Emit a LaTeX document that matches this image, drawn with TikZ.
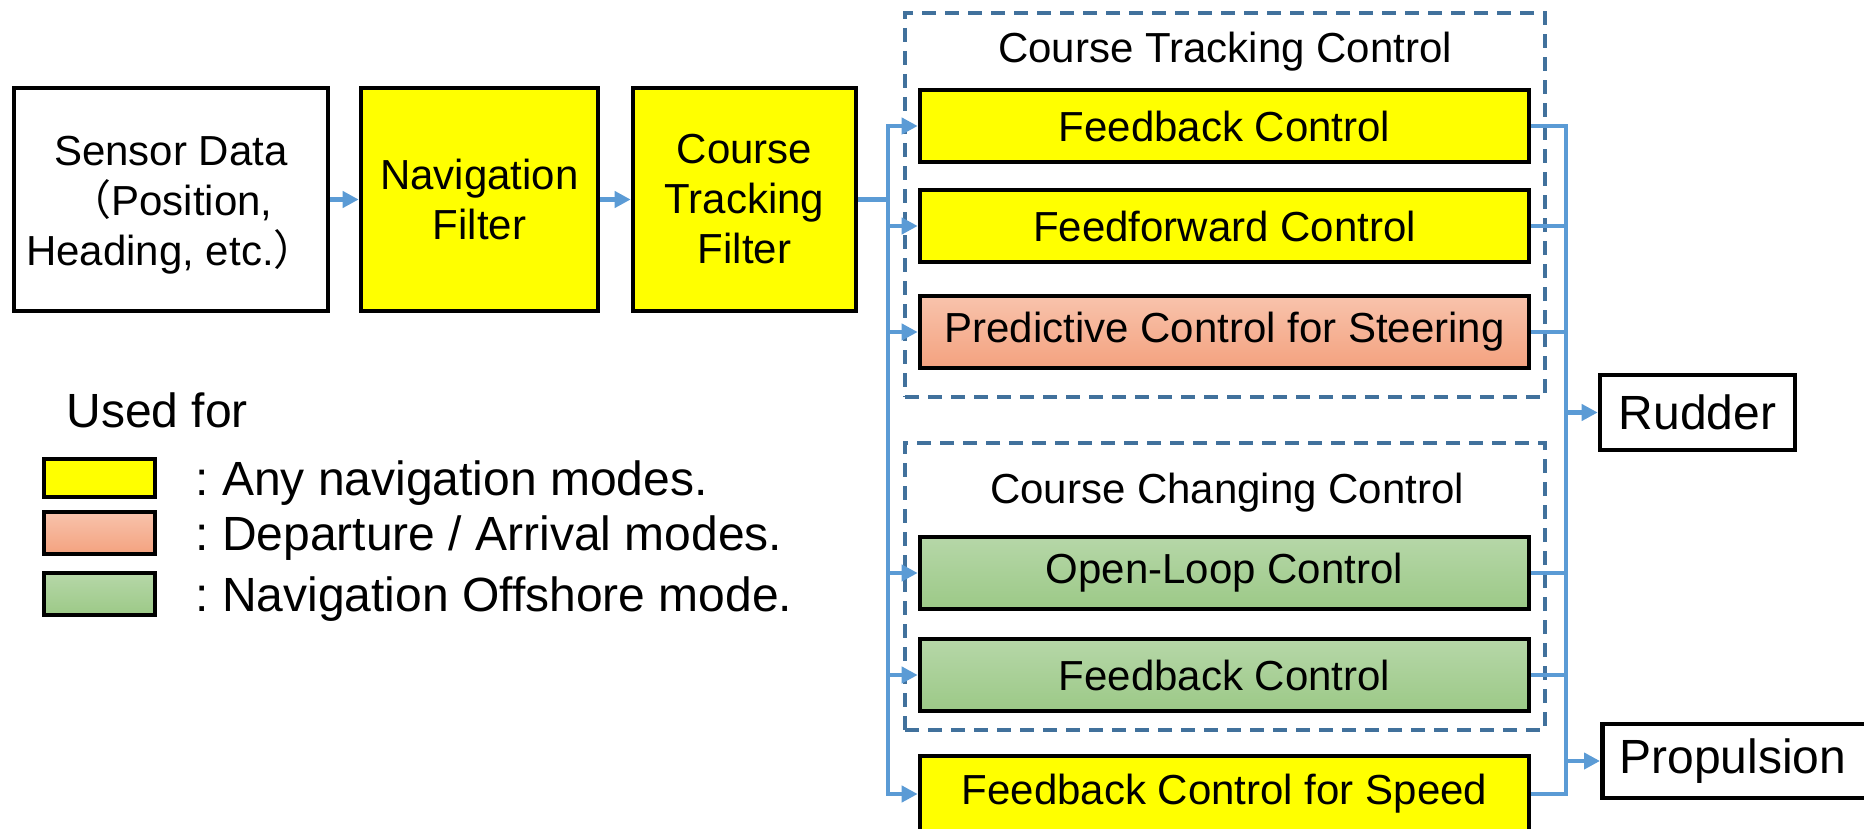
\documentclass[tikz,border=0pt]{standalone}
\usepackage{fontspec}
\setmainfont{Liberation Sans}
\newfontfamily\cjkfont{Noto Sans CJK JP}
\usetikzlibrary{arrows.meta}

\definecolor{linkblue}{HTML}{5B9BD5}
\definecolor{groupblue}{HTML}{41719C}
\definecolor{anyyellow}{HTML}{FFFF00}
\definecolor{salmontop}{HTML}{F8C3AC}
\definecolor{salmonbot}{HTML}{F4A27F}
\definecolor{greentop}{HTML}{B6D7A8}
\definecolor{greenbot}{HTML}{9CC987}

% full-width brackets, kept from changing the line height
\newcommand{\fwopen}{\smash{\cjkfont （}}
\newcommand{\fwclose}{\smash{\cjkfont ）}}
% three centred lines, set a little lower than their natural box
\newcommand{\lowstack}[1]{\raisebox{-3pt}[\height][\depth]{\begin{tabular}{@{}c@{}}#1\end{tabular}}}

\frenchspacing
\begin{document}
\begin{tikzpicture}[x=0.5pt,y=-0.5pt,
  boxtext/.style={font=\fontsize{21}{25}\selectfont},
  bigtext/.style={font=\fontsize{24}{28}\selectfont},
  box/.style={draw=black, line width=2.3pt, inner sep=0pt, align=center, boxtext},
  plainbox/.style={box, fill=white},
  yellowbox/.style={box, fill=anyyellow},
  salmonbox/.style={box, top color=salmontop, bottom color=salmonbot},
  greenbox/.style={box, top color=greentop, bottom color=greenbot},
  ctrl/.style={minimum width=304.5pt, minimum height=36pt},
  legendbox/.style={minimum width=55.5pt, minimum height=21pt},
  group/.style={draw=groupblue, line width=2.2pt, dash pattern=on 7pt off 4.5pt,
                inner sep=0pt, minimum width=320pt},
  link/.style={draw=linkblue, line width=2.2pt},
  arrow/.style={link, -{Triangle[length=8pt,width=8pt]}},
  legendtext/.style={bigtext, anchor=base west, inner sep=0pt},
]
\useasboundingbox (0,0) rectangle (1864,829);
\clip (0,0) rectangle (1864,829);

% processing chain
\node[plainbox, minimum width=157pt, minimum height=111.5pt] (sensor) at (171,199.5)
  {\lowstack{Sensor Data\\\fwopen Position,\\Heading, etc.\fwclose}};
\node[yellowbox, minimum width=118.5pt, minimum height=111.5pt] (nav) at (479.5,199.5)
  {Navigation\\Filter};
\node[yellowbox, minimum width=111.5pt, minimum height=111.5pt] (ctf) at (744.5,199.5)
  {Course\\Tracking\\Filter};

% controller groups
\node[group, minimum height=192pt] (ctcgroup) at (1225,205) {};
\node[boxtext, anchor=base] (ctclabel) at (1225,63) {Course Tracking Control};
\node[group, minimum height=143.5pt] (ccgroup) at (1225,586.5) {};
\node[boxtext, anchor=base] (cclabel) at (1227,503) {Course Changing Control};

% controllers
\node[yellowbox, ctrl] (fb1) at (1224.5,126) {Feedback Control};
\node[yellowbox, ctrl] (ff) at (1224.5,226) {Feedforward Control};
\node[salmonbox, ctrl] (pred) at (1224.5,332) {Predictive Control for Steering};
\node[greenbox, ctrl] (ol) at (1224.5,573) {Open-Loop Control};
\node[greenbox, ctrl] (fb2) at (1224.5,675) {Feedback Control};
\node[yellowbox, ctrl, minimum height=38pt] (spd) at (1224.5,794) {Feedback Control for Speed};

% actuators
\node[plainbox, bigtext, minimum width=97.5pt, minimum height=37.5pt] (rudder)
  at (1697.5,412.5) {Rudder};
\node[plainbox, bigtext, anchor=west, minimum height=37pt, text width=150pt,
      inner xsep=8.5pt, align=left] (prop) at (1600,761) {Propulsion};

% legend
\node[legendtext] (usedfor) at (66,427) {Used for};
\node[yellowbox, legendbox, minimum height=19pt] (lgany) at (99.5,478) {};
\node[salmonbox, legendbox] (lgdep) at (99.5,533) {};
\node[greenbox, legendbox] (lgoff) at (99.5,594) {};
\node[legendtext] (lganytext) at (195,495) {: Any navigation modes.};
\node[legendtext] (lgdeptext) at (195,550) {: Departure / Arrival modes.};
\node[legendtext] (lgofftext) at (195,611) {: Navigation Offshore mode.};

% bus positions
\coordinate (lbus) at (888,200);
\coordinate (rbus) at (1566,126);

% connectors
\draw[arrow] (sensor) -- (nav);
\draw[arrow] (nav) -- (ctf);
\foreach \t in {fb1,ff,pred,ol,fb2,spd}
  \draw[arrow] (ctf.east) -- (ctf.east -| lbus) |- (\t.west);

\draw[link] (fb1.east) -- (fb1.east -| rbus) -- (spd.east -| rbus) -- (spd.east);
\foreach \s in {ff,pred,ol,fb2}
  \draw[link] (\s.east) -- (\s.east -| rbus);
\draw[arrow] (rudder.west -| rbus) -- (rudder.west);
\draw[arrow] (prop.west -| rbus) -- (prop.west);
\end{tikzpicture}
\end{document}
